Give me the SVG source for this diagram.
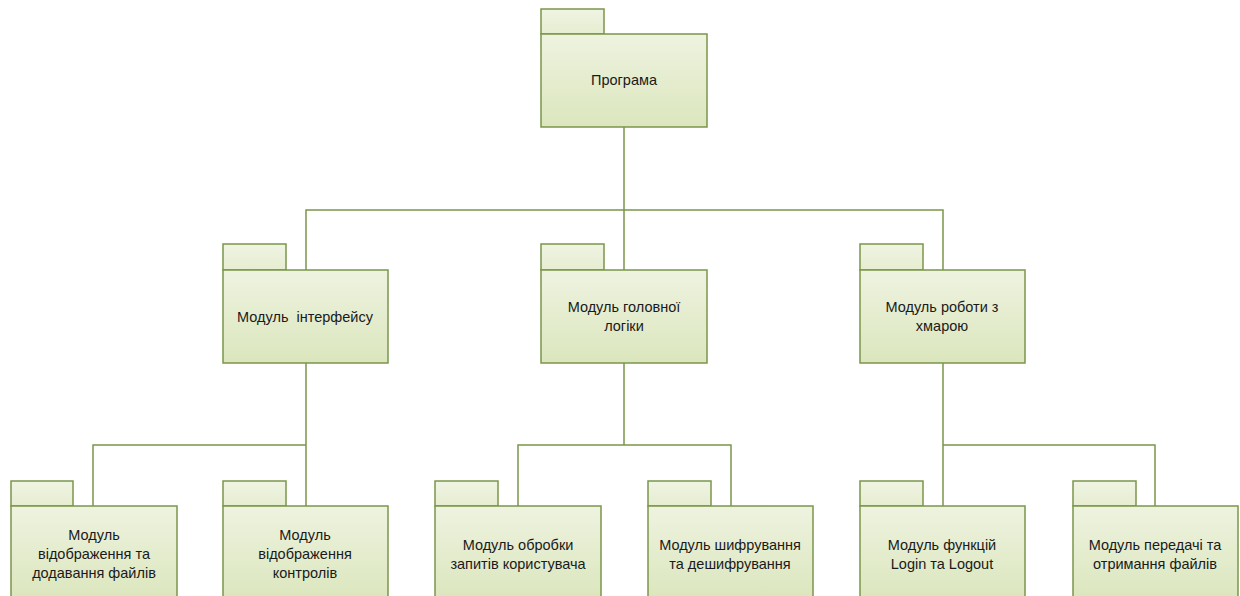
<svg xmlns="http://www.w3.org/2000/svg" width="1240" height="596" viewBox="0 0 1240 596">
<defs>
<linearGradient id="g" x1="0" y1="0" x2="0" y2="1">
<stop offset="0" stop-color="#eef3e0"/>
<stop offset="1" stop-color="#dbe6bd"/>
</linearGradient>
<linearGradient id="gt" x1="0" y1="0" x2="0" y2="1">
<stop offset="0" stop-color="#f0f4e4"/>
<stop offset="1" stop-color="#e6edd0"/>
</linearGradient>
</defs>
<style>
.tab{fill:url(#gt);stroke:#7b964a;stroke-width:1.5}
.body{fill:url(#g);stroke:#7b964a;stroke-width:1.5}
.c{fill:none;stroke:#7b964a;stroke-width:1.5}
text{font-family:"Liberation Sans",Arial,sans-serif;font-size:14.5px;fill:#1a1a1a;text-anchor:middle;white-space:pre}
</style>
<rect width="1240" height="596" fill="#ffffff"/>
<g id="connectors">
<path class="c" d="M624 127V210M306 270V210H943V270M624 210V270"/>
<path class="c" d="M306 363V445M93 506V445H306V506"/>
<path class="c" d="M624 363V445M518 506V445H731V506"/>
<path class="c" d="M943 363V445M943 506V445H1155V506"/>
</g>
<g id="programa">
<rect class="tab" x="541" y="9" width="63" height="25"/>
<rect class="body" x="541" y="34" width="166" height="93"/>
<text x="624" y="85">Програма</text>
</g>
<g id="interface">
<rect class="tab" x="223" y="244" width="63" height="26"/>
<rect class="body" x="223" y="270" width="165" height="93"/>
<text x="305" y="322">Модуль  інтерфейсу</text>
</g>
<g id="logic">
<rect class="tab" x="541" y="244" width="63" height="26"/>
<rect class="body" x="541" y="270" width="166" height="93"/>
<text x="624" y="312">Модуль головної</text>
<text x="624" y="331">логіки</text>
</g>
<g id="cloud">
<rect class="tab" x="860" y="244" width="63" height="26"/>
<rect class="body" x="860" y="270" width="165" height="93"/>
<text x="942" y="312">Модуль роботи з</text>
<text x="942" y="331">хмарою</text>
</g>
<g id="display-files">
<rect class="tab" x="11" y="481" width="62" height="25"/>
<rect class="body" x="11" y="506" width="166" height="93"/>
<text x="94" y="540">Модуль</text>
<text x="94" y="559">відображення та</text>
<text x="94" y="578">додавання файлів</text>
</g>
<g id="display-controls">
<rect class="tab" x="223" y="481" width="63" height="25"/>
<rect class="body" x="223" y="506" width="165" height="93"/>
<text x="305" y="540">Модуль</text>
<text x="305" y="559">відображення</text>
<text x="305" y="578">контролів</text>
</g>
<g id="requests">
<rect class="tab" x="435" y="481" width="63" height="25"/>
<rect class="body" x="435" y="506" width="166" height="93"/>
<text x="518" y="550">Модуль обробки</text>
<text x="518" y="569">запитів користувача</text>
</g>
<g id="encryption">
<rect class="tab" x="648" y="481" width="63" height="25"/>
<rect class="body" x="648" y="506" width="165" height="93"/>
<text x="730" y="550">Модуль шифрування</text>
<text x="730" y="569">та дешифрування</text>
</g>
<g id="login">
<rect class="tab" x="860" y="481" width="63" height="25"/>
<rect class="body" x="860" y="506" width="165" height="93"/>
<text x="942" y="550">Модуль функцій</text>
<text x="942" y="569">Login та Logout</text>
</g>
<g id="transfer">
<rect class="tab" x="1073" y="481" width="63" height="25"/>
<rect class="body" x="1073" y="506" width="165" height="93"/>
<text x="1155" y="550">Модуль передачі та</text>
<text x="1155" y="569">отримання файлів</text>
</g>
</svg>
